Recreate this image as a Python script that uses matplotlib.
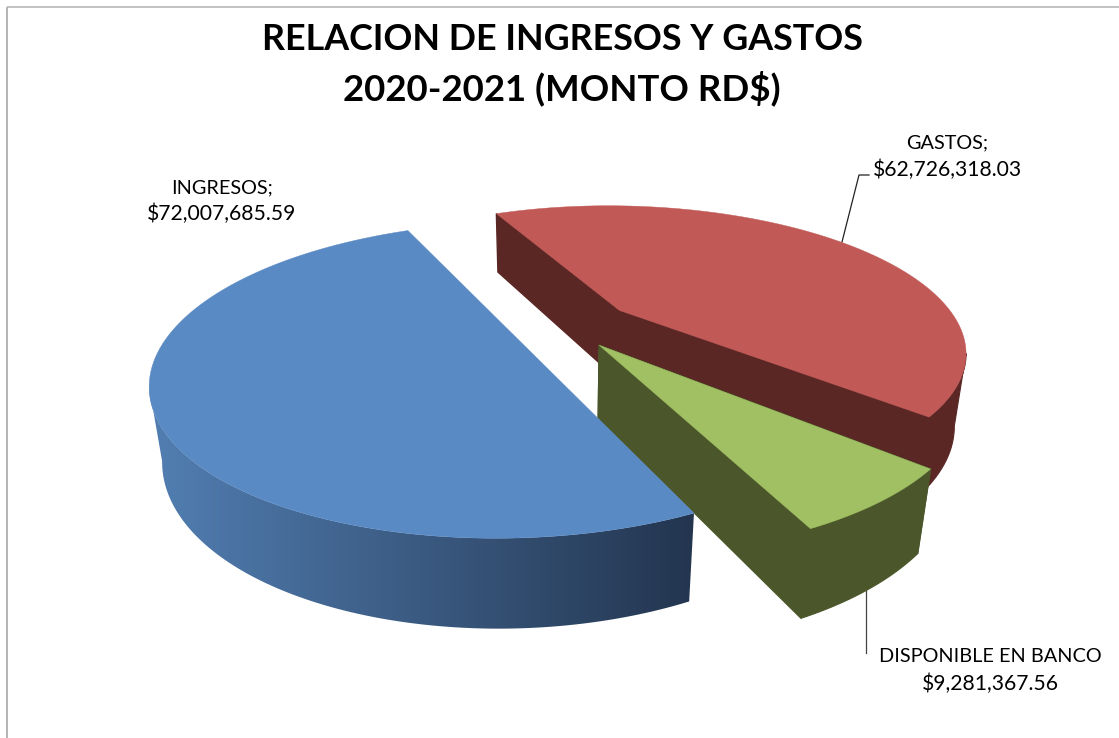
import numpy as np
import matplotlib
matplotlib.use("Agg")
import matplotlib.pyplot as plt
from matplotlib.patches import Polygon
from matplotlib.colors import to_rgb

plt.rcParams['font.family'] = ['Lato', 'DejaVu Sans']

names = ["INGRESOS;", "GASTOS;", "DISPONIBLE EN BANCO"]
value_labels = ["$72,007,685.59", "$62,726,318.03", "$9,281,367.56"]
values = np.array([72007685.59, 62726318.03, 9281367.56])
explode = [0.1611, 0.2013, 0.1577]
tops = ["#5a8ac4", "#c15a57", "#a1bf63"]
sides = ["#23354f", "#5a2725", "#4b572a"]
title_lines = ["RELACION DE INGRESOS Y GASTOS", "2020-2021 (MONTO RD$)"]

# camera: centre x, centre y, focal, distance, elevation, height, start angle
cx, cy, f, D, e, h, start = 565.9741, 326.7838, 1148.7597, 3.3672, 0.4254, 0.2348, 2.7056


def project(th, r, ex, mid, z):
    X = r*np.sin(th) + ex*np.sin(mid)
    Y = r*np.cos(th) + ex*np.cos(mid)
    Z = -h*z
    s = f/(D + Y*np.cos(e) - Z*np.sin(e))
    return cx + s*X, cy - s*(Y*np.sin(e) + Z*np.cos(e))


def front_range(x):
    lo = int(np.argmax(x))
    hi = int(np.argmin(x))
    if hi <= lo:
        hi = len(x) - 1
    return lo, hi


fig = plt.figure(figsize=(11.19, 7.38), dpi=100)
ax = fig.add_axes([0, 0, 1, 1])
ax.set_xlim(0, 1119)
ax.set_ylim(738, 0)
ax.axis("off")

sweeps = np.radians(values / values.sum() * 360)
edges = start + np.r_[0, np.cumsum(sweeps)]
c_left, c_right = np.array(to_rgb("#527fb3")), np.array(to_rgb(sides[0]))

for i in (1, 2, 0):
    t0, t1, ex = edges[i], edges[i+1], explode[i]
    m = (t0+t1)/2
    th = np.linspace(t0, t1, 400)
    xa, ya = project(th, 1.0, ex, m, 0)
    xb, yb = project(th, 1.0, ex, m, 1)
    ax0, ay0 = project(m, 0.0, ex, m, 0)
    ax1, ay1 = project(m, 0.0, ex, m, 1)
    la, ha_ = front_range(xa)
    lb, hb = front_range(xb)
    wall = np.c_[np.r_[xa[la:ha_+1], xb[lb:hb+1][::-1]], np.r_[ya[la:ha_+1], yb[lb:hb+1][::-1]]]
    if i == 0:
        patch = Polygon(wall, fc="none", ec="none", zorder=2.1)
        ax.add_patch(patch)
        ramp = np.linspace(c_left, c_right, 256)[None, :, :]
        im = ax.imshow(ramp, extent=(145, 696, 640, 380), aspect="auto", zorder=2.1,
                       interpolation="bilinear")
        im.set_clip_path(patch)
    else:
        for a in (0, -1):
            ax.add_patch(Polygon([[xa[a], ya[a]], [xb[a], yb[a]], [ax1, ay1], [ax0, ay0]],
                                 fc=sides[i], ec=sides[i], lw=1.0, zorder=2))
        ax.add_patch(Polygon(wall, fc=sides[i], ec=sides[i], lw=0.8, zorder=2))
    ax.add_patch(Polygon(np.c_[np.r_[ax0, xa], np.r_[ay0, ya]], fc=tops[i], ec=tops[i], lw=0.3,
                         zorder=2.2 if i == 0 else 2))

ax.set_xlim(0, 1119)
ax.set_ylim(738, 0)

# frame
ax.plot([6.5, 6.5], [738, 6.5], color="#a8a8a8", lw=1.2, zorder=1, solid_capstyle="butt")
ax.plot([6.5, 1119], [6.5, 6.5], color="#b8b8b8", lw=1.2, zorder=1, solid_capstyle="butt")

# leaders
ax.plot([842, 859, 869], [242, 175, 175], color="#222222", lw=0.9, zorder=1)
ax.plot([866, 866], [590, 653], color="#444444", lw=0.9, zorder=1)

ax.text(562, 50, title_lines[0], ha="center", va="baseline", fontsize=25.8, fontweight="bold", color="black")
ax.text(561.5, 100, title_lines[1], ha="center", va="baseline", fontsize=26.4, fontweight="bold", color="black")

label_pos = [(222, 193, 220.5), (947, 148, 176), (990, 662, 690)]
for name, val, (x, y1, y2) in zip(names, value_labels, label_pos):
    ax.text(x, y1, name, ha="center", va="baseline", fontsize=14.3, color="black")
    ax.text(x, y2, val, ha="center", va="baseline", fontsize=15.2, color="black")

fig.savefig("out.png", dpi=100)
